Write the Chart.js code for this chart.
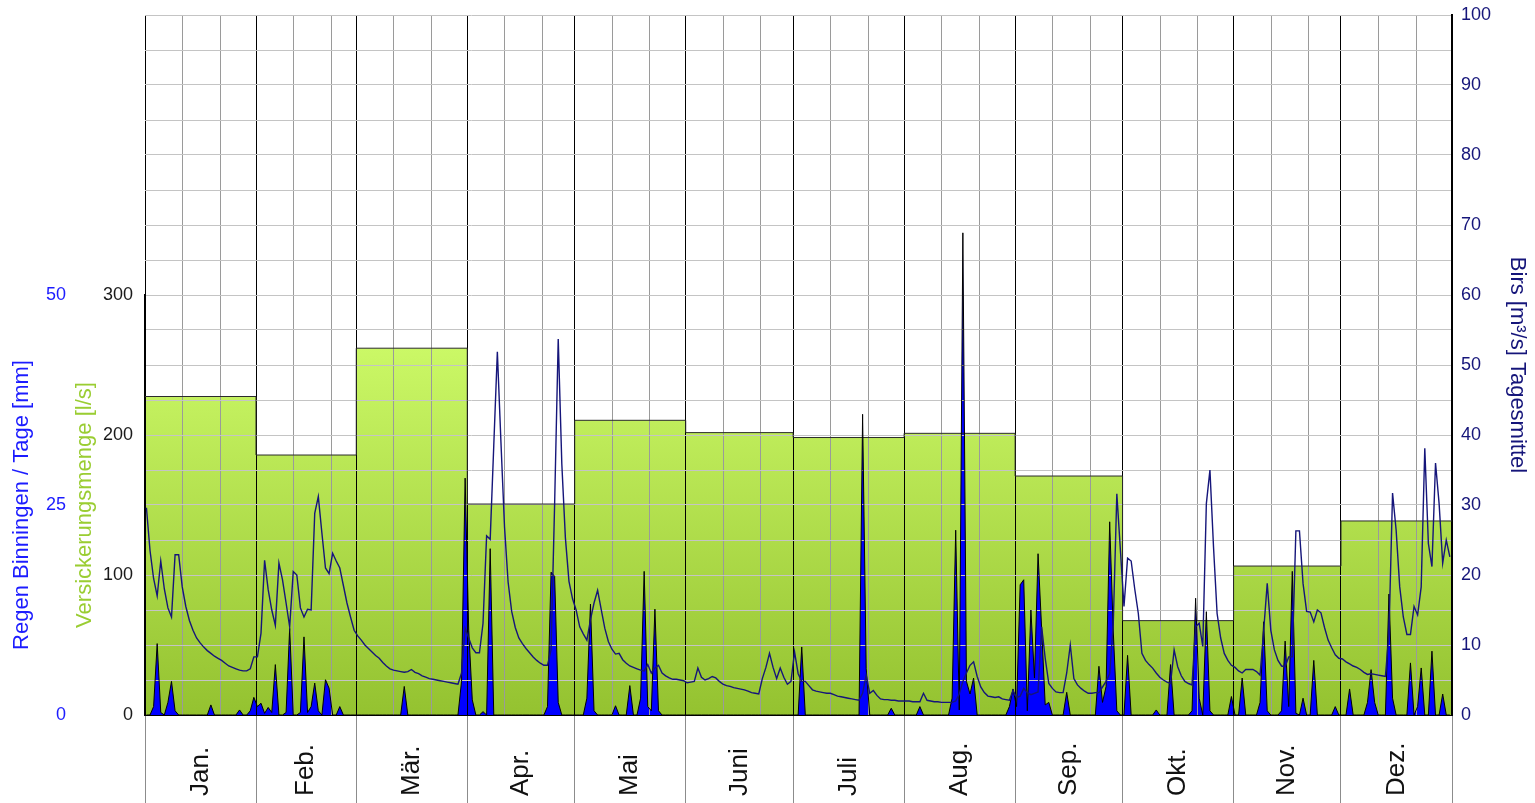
<!DOCTYPE html>
<html><head>
<meta charset="UTF-8">
<title>Versickerungsmenge, Regen Binningen und Birs</title>
<script src="https://cdn.jsdelivr.net/npm/chart.js@4"></script>
<style>
  body { margin: 0; background: #fff; }
  #box { position: relative; width: 1535px; height: 803px; }
</style>
</head>
<body>
<div id="box"><canvas id="chart"></canvas></div>
<script>
const FONT = "'Liberation Sans', Arial, sans-serif";
const NAVY = '#15157a';
const BLUE = '#1c1cff';
const GREEN_TEXT = '#9acd32';

// Monate
const monthLabels = ['Jan.', 'Feb.', 'Mär.', 'Apr.', 'Mai', 'Juni', 'Juli', 'Aug.', 'Sep.', 'Okt.', 'Nov.', 'Dez.'];
const monthDays = [31, 28, 31, 30, 31, 30, 31, 31, 30, 31, 30, 31];

// Versickerungsmenge pro Monat [l/s]
const seepage = [227.5, 185.7, 262, 150.7, 210.5, 201.7, 198.2, 201.2, 170.7, 67.4, 106.4, 138.6];

// Birs Tagesmittel [m3/s], ein Wert pro Tag (Monat pro Zeile)
const birsDaily = [
  29.6, 23.5, 19.5, 17.0, 22.0, 18.0, 15.3, 14.0, 22.9, 22.9, 18.3, 15.5, 13.5, 12.1, 11.0, 10.3, 9.7, 9.2, 8.8, 8.4, 8.1, 7.8, 7.4, 7.0, 6.8, 6.6, 6.4, 6.3, 6.3, 6.6, 8.3,
  8.3, 11.7, 22.1, 17.9, 15.0, 12.8, 21.7, 19.3, 16.0, 12.6, 20.5, 20.0, 15.3, 14.0, 15.1, 15.0, 28.8, 31.2, 26.0, 21.0, 20.2, 23.1, 22.0, 21.0, 18.5, 16.0, 14.0, 12.1,
  11.3, 10.7, 10.0, 9.5, 9.0, 8.5, 8.1, 7.5, 7.0, 6.6, 6.4, 6.3, 6.2, 6.1, 6.2, 6.5, 6.1, 5.9, 5.6, 5.4, 5.2, 5.1, 5.0, 4.9, 4.8, 4.7, 4.6, 4.5, 4.4, 6.0, 12.4,
  11.0, 9.6, 8.9, 8.9, 13.1, 25.6, 25.1, 38.5, 51.9, 39.0, 26.9, 19.0, 14.8, 12.5, 11.0, 10.2, 9.5, 8.9, 8.3, 7.8, 7.4, 7.1, 7.1, 9.3, 30.3, 53.7, 35.9, 25.3, 19.1, 16.6,
  15.0, 12.6, 11.6, 10.7, 13.6, 16.0, 17.8, 15.1, 12.4, 10.5, 9.4, 8.7, 8.8, 7.9, 7.4, 7.0, 6.8, 6.6, 6.4, 6.3, 7.2, 6.0, 6.7, 7.1, 6.0, 5.6, 5.3, 5.1, 5.1, 5.0, 4.9,
  4.6, 4.7, 4.8, 6.7, 5.4, 5.0, 5.2, 5.5, 5.3, 4.8, 4.4, 4.2, 4.1, 3.9, 3.8, 3.7, 3.6, 3.4, 3.2, 3.1, 3.0, 5.2, 6.8, 8.8, 6.8, 5.2, 6.7, 5.4, 4.4, 4.8,
  9.0, 5.9, 4.8, 4.8, 4.2, 3.6, 3.4, 3.3, 3.2, 3.1, 3.1, 2.9, 2.7, 2.6, 2.5, 2.4, 2.3, 2.2, 2.1, 3.1, 5.7, 3.1, 3.5, 2.8, 2.3, 2.2, 2.2, 2.1, 2.1, 2.0, 2.0,
  2.0, 2.0, 1.9, 1.9, 1.9, 3.1, 2.1, 2.0, 1.9, 1.9, 1.8, 1.8, 1.8, 1.8, 2.0, 3.0, 4.8, 6.0, 7.1, 7.6, 5.5, 4.0, 3.2, 2.7, 2.6, 2.5, 2.6, 2.3, 2.2, 2.1, 3.5,
  2.5, 2.7, 3.8, 3.2, 2.9, 3.1, 3.3, 12.6, 8.1, 4.5, 3.8, 3.3, 3.2, 3.2, 6.0, 10.0, 5.2, 4.3, 3.8, 3.4, 3.1, 3.1, 3.2, 3.2, 4.0, 4.8, 5.9, 13.0, 31.6, 23.5,
  15.5, 22.4, 22.0, 18.0, 14.5, 8.8, 7.8, 7.2, 6.7, 6.0, 5.4, 5.0, 4.7, 4.5, 9.3, 6.9, 5.6, 4.8, 4.5, 4.3, 12.6, 13.1, 9.8, 30.2, 35.0, 24.0, 14.5, 11.0, 8.8, 7.8, 7.1,
  6.8, 6.3, 6.0, 6.5, 6.5, 6.5, 6.2, 5.7, 12.0, 18.8, 12.1, 9.3, 7.8, 7.0, 6.9, 8.3, 8.3, 26.3, 26.3, 18.8, 14.8, 14.7, 13.3, 15.0, 14.6, 12.5, 10.7, 9.6, 8.6, 8.1,
  8.0, 7.6, 7.3, 7.0, 6.8, 6.5, 6.1, 5.8, 5.9, 5.8, 5.7, 5.6, 5.5, 11.7, 31.7, 26.4, 18.3, 14.0, 11.5, 11.5, 15.5, 14.3, 18.3, 38.1, 24.5, 21.2, 36.0, 30.2, 21.7, 25.0, 22.6
];

// Regen Binningen [mm]: Tage mit Niederschlag (Tag im Jahr, ab 0) und Menge
const rainDays = [
  2, 3, 4, 6, 7, 8, 18, 26, 29, 30,
  31, 32, 33, 34, 35, 36, 39, 40, 43, 44, 45, 46, 47, 48, 50, 51, 54,
  72, 88, 89, 90, 91,
  94, 96, 112, 113, 114, 115,
  123, 124, 125, 131, 135, 138, 139, 140, 141, 142, 143,
  183, 200, 201, 208,
  216, 225, 226, 227, 228, 229, 230, 231, 241, 242,
  243, 244, 245, 246, 247, 248, 249, 250, 251, 252, 257, 266, 267, 268, 269, 270, 271,
  274, 282, 286, 292, 293, 294, 296, 297, 303,
  306, 311, 312, 313, 317, 318, 319, 320, 321, 323, 326, 332,
  336, 341, 342, 343, 347, 348, 353, 355, 356, 359, 362
];
const rainMm = [
  1.0, 8.5, 0.3, 1.5, 4.0, 0.5, 1.2, 0.6, 0.5, 2.1,
  1.0, 1.4, 0.2, 0.9, 0.3, 6.0, 0.3, 10.3, 0.3, 9.3, 0.3, 1.0, 3.8, 0.5, 4.2, 3.2, 1.0,
  3.4, 4.0, 28.2, 10.1, 1.8,
  0.4, 19.8, 1.0, 17.0, 16.5, 1.5,
  2.0, 13.2, 0.5, 1.1, 3.5, 2.0, 17.1, 1.0, 0.5, 12.6, 0.5,
  8.1, 35.8, 5.5, 0.8,
  1.0, 2.0, 22.0, 0.6, 57.4, 4.0, 2.5, 4.4, 1.0, 3.1,
  1.0, 15.5, 16.1, 0.5, 12.5, 4.4, 19.2, 10.3, 1.2, 1.5, 2.7, 5.8, 1.5, 3.4, 23.0, 10.0, 0.5,
  7.1, 0.6, 6.0, 0.5, 13.9, 2.0, 12.3, 0.5, 2.2,
  4.4, 1.5, 11.1, 0.5, 0.5, 8.8, 1.0, 17.1, 0.2, 2.0, 6.5, 1.0,
  3.1, 1.5, 5.4, 1.5, 14.4, 2.0, 6.2, 1.0, 5.6, 7.6, 2.5
];

// Tagesachse
const DAY_OFFSET = 0.4;
const monthStarts = [];
monthDays.reduce((acc, d) => { monthStarts.push(acc); return acc + d; }, 0);
const yearEnd = monthStarts[11] + monthDays[11];
const boundaries = monthStarts.concat([yearEnd]);
const gridDays = boundaries.concat(monthStarts.flatMap(s => [s + 10.5, s + 21]));
const isBoundary = v => boundaries.includes(v);

const rainDaily = new Array(yearEnd).fill(0);
rainDays.forEach((d, k) => { rainDaily[d] = rainMm[k]; });

const birsPoints = birsDaily.map((v, i) => ({x: i + DAY_OFFSET, y: v}));
const rainPoints = rainDaily.map((v, i) => ({x: i + DAY_OFFSET, y: v}));
const seepagePoints = monthStarts.map((s, i) => ({x: s, y: seepage[i]}))
  .concat([{x: yearEnd, y: seepage[11]}]);

function seepageGradient(context) {
  const chart = context.chart;
  const area = chart.chartArea;
  const yScale = chart.scales.yFlow;
  if (!area || !yScale) return '#b4e04a';
  const top = yScale.getPixelForValue(Math.max(...seepage));
  const g = chart.ctx.createLinearGradient(0, top, 0, area.bottom);
  g.addColorStop(0, '#cbf866');
  g.addColorStop(1, '#94c230');
  return g;
}

// axis boxes get a fixed width; no extra label overflow above/below the plot
const fixWidth = w => s => { s.width = w; s.paddingTop = 0; s.paddingBottom = 0; };

const monthLabelPlugin = {
  id: 'monthLabels',
  afterDraw(chart) {
    const ctx = chart.ctx;
    const x = chart.scales.x;
    ctx.save();
    ctx.font = '26px ' + FONT;
    ctx.fillStyle = '#111';
    ctx.textAlign = 'left';
    ctx.textBaseline = 'middle';
    monthLabels.forEach((label, i) => {
      const px = x.getPixelForValue(monthStarts[i] + monthDays[i] / 2);
      ctx.save();
      ctx.translate(px, chart.height - 7);
      ctx.rotate(-Math.PI / 2);
      ctx.fillText(label, 0, 0);
      ctx.restore();
    });
    ctx.restore();
  }
};

const tickFont = {family: FONT, size: 18};
const titleFont = {family: FONT, size: 22, lineHeight: 1};

new Chart(document.getElementById('chart'), {
  type: 'line',
  data: {
    datasets: [
      {
        label: 'Birs Tagesmittel',
        data: birsPoints,
        yAxisID: 'yBirs',
        borderColor: NAVY,
        borderWidth: 1.4,
        pointRadius: 0,
        fill: false
      },
      {
        label: 'Regen Binningen',
        data: rainPoints,
        yAxisID: 'yRain',
        borderColor: '#000',
        borderWidth: 1,
        backgroundColor: '#0000ff',
        pointRadius: 0,
        fill: 'origin',
        clip: false
      },
      {
        label: 'Versickerungsmenge',
        data: seepagePoints,
        yAxisID: 'yFlow',
        stepped: 'before',
        borderColor: '#2b2b2b',
        borderWidth: 1,
        backgroundColor: seepageGradient,
        pointRadius: 0,
        fill: 'origin'
      }
    ]
  },
  options: {
    responsive: true,
    maintainAspectRatio: false,
    animation: false,
    layout: {padding: {top: 15, right: 0, bottom: 0, left: 0}},
    plugins: {
      legend: {display: false},
      tooltip: {enabled: false},
      filler: {drawTime: 'beforeDraw'}
    },
    scales: {
      x: {
        type: 'linear',
        min: 0,
        max: yearEnd,
        afterBuildTicks: s => { s.ticks = gridDays.map(v => ({value: v})); },
        afterFit: s => { s.height = 88; },
        ticks: {display: false},
        grid: {
          color: c => isBoundary(c.tick.value) ? '#000' : '#9a9a9a',
          drawTicks: true,
          tickLength: 88,
          tickColor: c => isBoundary(c.tick.value) ? '#8c8c8c' : 'rgba(0,0,0,0)'
        },
        border: {display: true, color: '#000', width: 1}
      },
      yBirs: {
        type: 'linear',
        position: 'right',
        min: 0,
        max: 100,
        afterFit: fixWidth(83),
        ticks: {
          stepSize: 5,
          autoSkip: false,
          padding: 9,
          color: NAVY,
          font: tickFont,
          callback: v => (v % 10 === 0 ? v : '')
        },
        grid: {color: '#c4c4c4', drawTicks: false},
        border: {color: '#000', width: 2},
        title: {
          display: true,
          text: 'Birs [m³/s] Tagesmittel',
          color: NAVY,
          font: titleFont,
          padding: {top: 7, bottom: 0}
        }
      },
      yFlow: {
        type: 'linear',
        position: 'left',
        stack: 'flow',
        stackWeight: 3,
        weight: 1,
        min: 0,
        max: 300,
        afterFit: fixWidth(75),
        ticks: {stepSize: 100, padding: 12, color: '#1a1a1a', font: tickFont},
        grid: {display: false, drawTicks: false},
        border: {color: '#000', width: 2},
        title: {
          display: true,
          text: 'Versickerungsmenge [l/s]',
          color: GREEN_TEXT,
          font: titleFont,
          padding: {top: 4, bottom: 0}
        }
      },
      yFlowPad: {
        type: 'linear',
        position: 'left',
        stack: 'flow',
        stackWeight: 2,
        weight: 2,
        display: false
      },
      yRain: {
        type: 'linear',
        position: 'left',
        stack: 'rain',
        stackWeight: 3,
        weight: 3,
        min: 0,
        max: 50,
        afterFit: fixWidth(70),
        ticks: {stepSize: 25, padding: 4, color: BLUE, font: tickFont},
        grid: {display: false, drawTicks: false},
        border: {display: false},
        title: {
          display: true,
          text: 'Regen Binningen / Tage [mm]',
          color: BLUE,
          font: titleFont,
          padding: {top: 11, bottom: 0}
        }
      },
      yRainPad: {
        type: 'linear',
        position: 'left',
        stack: 'rain',
        stackWeight: 2,
        weight: 4,
        display: false
      }
    }
  },
  plugins: [monthLabelPlugin]
});
</script>
</body></html>
